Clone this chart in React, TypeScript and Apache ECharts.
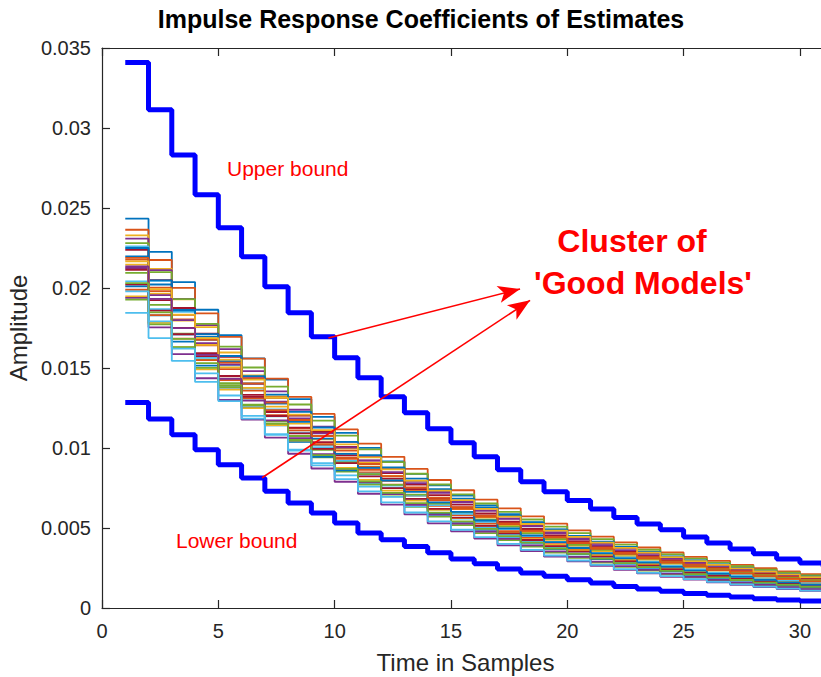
import React, { useEffect, useRef } from "react";
import * as echarts from "echarts";

// Time samples (stairs start at each sample)
const SAMPLES = [1, 2, 3, 4, 5, 6, 7, 8, 9, 10, 11, 12, 13, 14, 15, 16, 17, 18, 19, 20, 21, 22, 23, 24, 25, 26, 27, 28, 29, 30, 31];

// Thick blue bounds
const UPPER_BOUND = [0.0341, 0.03114, 0.02831, 0.02583, 0.02377, 0.02196, 0.02008, 0.01846, 0.01696, 0.01564, 0.01439, 0.01321, 0.01221, 0.01121, 0.01033, 0.00946, 0.00864, 0.00789, 0.00727, 0.00672, 0.00619, 0.00566, 0.00525, 0.00489, 0.00444, 0.00406, 0.00369, 0.00339, 0.00306, 0.00281, 0.00258];
const LOWER_BOUND = [0.01285, 0.01181, 0.01083, 0.00989, 0.00896, 0.00813, 0.00729, 0.00656, 0.00594, 0.00531, 0.00469, 0.00427, 0.00385, 0.00345, 0.00306, 0.00277, 0.00244, 0.00219, 0.00198, 0.00177, 0.00156, 0.00135, 0.00119, 0.00104, 0.00091, 0.00079, 0.00069, 0.00058, 0.0005, 0.00044, 0.0004];

// Cluster of model impulse responses
const MODEL_01 = [0.02433, 0.02226, 0.02037, 0.01864, 0.01705, 0.0156, 0.01428, 0.01306, 0.01195, 0.01094, 0.01001, 0.00916, 0.00838, 0.00767, 0.00702, 0.00642, 0.00587, 0.00537, 0.00492, 0.0045, 0.00412, 0.00377, 0.00345, 0.00315, 0.00289, 0.00264, 0.00242, 0.00221, 0.00202, 0.00185, 0.00169];
const MODEL_02 = [0.02364, 0.02175, 0.02001, 0.01841, 0.01694, 0.01558, 0.01433, 0.01319, 0.01213, 0.01116, 0.01027, 0.00945, 0.00869, 0.008, 0.00736, 0.00677, 0.00623, 0.00573, 0.00527, 0.00485, 0.00446, 0.0041, 0.00378, 0.00347, 0.0032, 0.00294, 0.0027, 0.00249, 0.00229, 0.00211, 0.00194];
const MODEL_03 = [0.02329, 0.02119, 0.01929, 0.01755, 0.01597, 0.01453, 0.01323, 0.01204, 0.01095, 0.00997, 0.00907, 0.00825, 0.00751, 0.00683, 0.00622, 0.00566, 0.00515, 0.00469, 0.00426, 0.00388, 0.00353, 0.00321, 0.00292, 0.00266, 0.00242, 0.0022, 0.00201, 0.00183, 0.00166, 0.00151, 0.00138];
const MODEL_04 = [0.02308, 0.02112, 0.01932, 0.01768, 0.01618, 0.0148, 0.01354, 0.01239, 0.01134, 0.01038, 0.00949, 0.00869, 0.00795, 0.00727, 0.00665, 0.00609, 0.00557, 0.0051, 0.00466, 0.00427, 0.00391, 0.00357, 0.00327, 0.00299, 0.00274, 0.0025, 0.00229, 0.0021, 0.00192, 0.00176, 0.00161];
const MODEL_05 = [0.02281, 0.02099, 0.01931, 0.01776, 0.01634, 0.01503, 0.01383, 0.01272, 0.01171, 0.01077, 0.00991, 0.00912, 0.00839, 0.00772, 0.0071, 0.00653, 0.00601, 0.00553, 0.00509, 0.00468, 0.0043, 0.00396, 0.00364, 0.00335, 0.00308, 0.00284, 0.00261, 0.0024, 0.00221, 0.00203, 0.00187];
const MODEL_06 = [0.0226, 0.02045, 0.01851, 0.01675, 0.01516, 0.01372, 0.01242, 0.01124, 0.01017, 0.0092, 0.00833, 0.00754, 0.00682, 0.00617, 0.00559, 0.00506, 0.00458, 0.00414, 0.00375, 0.00339, 0.00307, 0.00278, 0.00251, 0.00228, 0.00206, 0.00186, 0.00169, 0.00153, 0.00138, 0.00125, 0.00113];
const MODEL_07 = [0.02239, 0.02049, 0.01875, 0.01715, 0.01569, 0.01436, 0.01314, 0.01202, 0.011, 0.01007, 0.00921, 0.00843, 0.00771, 0.00706, 0.00646, 0.00591, 0.0054, 0.00495, 0.00453, 0.00414, 0.00379, 0.00347, 0.00317, 0.0029, 0.00266, 0.00243, 0.00222, 0.00203, 0.00186, 0.0017, 0.00156];
const MODEL_08 = [0.02198, 0.02022, 0.0186, 0.01712, 0.01575, 0.01449, 0.01333, 0.01226, 0.01128, 0.01038, 0.00955, 0.00878, 0.00808, 0.00743, 0.00684, 0.00629, 0.00579, 0.00533, 0.0049, 0.00451, 0.00415, 0.00382, 0.00351, 0.00323, 0.00297, 0.00273, 0.00251, 0.00231, 0.00213, 0.00196, 0.0018];
const MODEL_09 = [0.02177, 0.01981, 0.01803, 0.01641, 0.01493, 0.01359, 0.01236, 0.01125, 0.01024, 0.00932, 0.00848, 0.00771, 0.00702, 0.00639, 0.00581, 0.00529, 0.00481, 0.00438, 0.00399, 0.00363, 0.0033, 0.003, 0.00273, 0.00249, 0.00226, 0.00206, 0.00187, 0.00171, 0.00155, 0.00141, 0.00129];
const MODEL_10 = [0.02146, 0.01964, 0.01797, 0.01644, 0.01504, 0.01376, 0.01259, 0.01152, 0.01054, 0.00965, 0.00883, 0.00808, 0.00739, 0.00676, 0.00619, 0.00566, 0.00518, 0.00474, 0.00434, 0.00397, 0.00363, 0.00332, 0.00304, 0.00278, 0.00255, 0.00233, 0.00213, 0.00195, 0.00178, 0.00163, 0.00149];
const MODEL_11 = [0.02125, 0.01955, 0.01799, 0.01655, 0.01522, 0.01401, 0.01289, 0.01185, 0.01091, 0.01003, 0.00923, 0.00849, 0.00781, 0.00719, 0.00661, 0.00608, 0.0056, 0.00515, 0.00474, 0.00436, 0.00401, 0.00369, 0.00339, 0.00312, 0.00287, 0.00264, 0.00243, 0.00224, 0.00206, 0.00189, 0.00174];
const MODEL_12 = [0.02094, 0.01895, 0.01715, 0.01552, 0.01405, 0.01271, 0.0115, 0.01041, 0.00942, 0.00853, 0.00772, 0.00698, 0.00632, 0.00572, 0.00518, 0.00468, 0.00424, 0.00384, 0.00347, 0.00314, 0.00284, 0.00257, 0.00233, 0.00211, 0.00191, 0.00173, 0.00156, 0.00141, 0.00128, 0.00116, 0.00105];
const MODEL_13 = [0.02041, 0.01868, 0.01709, 0.01564, 0.01431, 0.01309, 0.01198, 0.01096, 0.01003, 0.00918, 0.0084, 0.00768, 0.00703, 0.00643, 0.00588, 0.00538, 0.00493, 0.00451, 0.00412, 0.00377, 0.00345, 0.00316, 0.00289, 0.00265, 0.00242, 0.00221, 0.00203, 0.00185, 0.0017, 0.00155, 0.00142];
const MODEL_14 = [0.02021, 0.01859, 0.01711, 0.01574, 0.01448, 0.01332, 0.01225, 0.01127, 0.01037, 0.00954, 0.00878, 0.00808, 0.00743, 0.00684, 0.00629, 0.00579, 0.00532, 0.0049, 0.00451, 0.00415, 0.00381, 0.00351, 0.00323, 0.00297, 0.00273, 0.00251, 0.00231, 0.00213, 0.00196, 0.0018, 0.00166];
const MODEL_15 = [0.0201, 0.01829, 0.01665, 0.01515, 0.01378, 0.01254, 0.01141, 0.01039, 0.00945, 0.0086, 0.00783, 0.00712, 0.00648, 0.0059, 0.00537, 0.00488, 0.00444, 0.00404, 0.00368, 0.00335, 0.00305, 0.00277, 0.00252, 0.0023, 0.00209, 0.0019, 0.00173, 0.00158, 0.00143, 0.0013, 0.00119];
const MODEL_16 = [0.01989, 0.0183, 0.01683, 0.01549, 0.01425, 0.01311, 0.01206, 0.0111, 0.01021, 0.00939, 0.00864, 0.00795, 0.00731, 0.00673, 0.00619, 0.00569, 0.00524, 0.00482, 0.00443, 0.00408, 0.00375, 0.00345, 0.00318, 0.00292, 0.00269, 0.00247, 0.00228, 0.00209, 0.00193, 0.00177, 0.00163];
const MODEL_17 = [0.01948, 0.01782, 0.01631, 0.01492, 0.01365, 0.01249, 0.01143, 0.01046, 0.00957, 0.00876, 0.00801, 0.00733, 0.00671, 0.00614, 0.00562, 0.00514, 0.0047, 0.0043, 0.00394, 0.0036, 0.0033, 0.00302, 0.00276, 0.00253, 0.00231, 0.00211, 0.00193, 0.00177, 0.00162, 0.00148, 0.00136];
const MODEL_18 = [0.01938, 0.01754, 0.01587, 0.01436, 0.013, 0.01177, 0.01065, 0.00964, 0.00872, 0.00789, 0.00714, 0.00646, 0.00585, 0.00529, 0.00479, 0.00434, 0.00392, 0.00355, 0.00321, 0.00291, 0.00263, 0.00238, 0.00216, 0.00195, 0.00177, 0.0016, 0.00145, 0.00131, 0.00118, 0.00107, 0.00097];
const MODEL_19 = [0.01927, 0.01773, 0.01631, 0.01501, 0.0138, 0.0127, 0.01168, 0.01075, 0.00989, 0.0091, 0.00837, 0.0077, 0.00708, 0.00652, 0.006, 0.00552, 0.00508, 0.00467, 0.0043, 0.00395, 0.00364, 0.00335, 0.00308, 0.00283, 0.0026, 0.0024, 0.0022, 0.00203, 0.00187, 0.00172, 0.00158];
const MODEL_20 = [0.01844, 0.01687, 0.01544, 0.01413, 0.01293, 0.01183, 0.01082, 0.0099, 0.00906, 0.00829, 0.00759, 0.00694, 0.00635, 0.00581, 0.00532, 0.00486, 0.00445, 0.00407, 0.00373, 0.00341, 0.00312, 0.00285, 0.00261, 0.00239, 0.00219, 0.002, 0.00183, 0.00168, 0.00153, 0.0014, 0.00128];
const MODEL_21 = [0.02114, 0.01924, 0.01751, 0.01593, 0.0145, 0.01319, 0.012, 0.01092, 0.00994, 0.00905, 0.00823, 0.00749, 0.00682, 0.0062, 0.00565, 0.00514, 0.00467, 0.00425, 0.00387, 0.00352, 0.00321, 0.00292, 0.00265, 0.00242, 0.0022, 0.002, 0.00182, 0.00166, 0.00151, 0.00137, 0.00125];
const MODEL_22 = [0.0225, 0.02048, 0.01863, 0.01696, 0.01543, 0.01404, 0.01278, 0.01163, 0.01058, 0.00963, 0.00876, 0.00797, 0.00726, 0.0066, 0.00601, 0.00547, 0.00498, 0.00453, 0.00412, 0.00375, 0.00341, 0.0031, 0.00283, 0.00257, 0.00234, 0.00213, 0.00194, 0.00176, 0.0016, 0.00146, 0.00133];
const MODEL_23 = [0.02188, 0.02002, 0.01832, 0.01676, 0.01534, 0.01403, 0.01284, 0.01175, 0.01075, 0.00984, 0.009, 0.00824, 0.00754, 0.00689, 0.00631, 0.00577, 0.00528, 0.00483, 0.00442, 0.00405, 0.0037, 0.00339, 0.0031, 0.00284, 0.0026, 0.00237, 0.00217, 0.00199, 0.00182, 0.00166, 0.00152];
const MODEL_24 = [0.02166, 0.01993, 0.01833, 0.01687, 0.01552, 0.01428, 0.01313, 0.01208, 0.01112, 0.01023, 0.00941, 0.00866, 0.00796, 0.00733, 0.00674, 0.0062, 0.00571, 0.00525, 0.00483, 0.00444, 0.00409, 0.00376, 0.00346, 0.00318, 0.00293, 0.00269, 0.00248, 0.00228, 0.0021, 0.00193, 0.00178];
const MODEL_25 = [0.02135, 0.01932, 0.01749, 0.01582, 0.01432, 0.01296, 0.01173, 0.01062, 0.00961, 0.00869, 0.00787, 0.00712, 0.00644, 0.00583, 0.00528, 0.00478, 0.00432, 0.00391, 0.00354, 0.0032, 0.0029, 0.00262, 0.00238, 0.00215, 0.00195, 0.00176, 0.00159, 0.00144, 0.0013, 0.00118, 0.00107];
const MODEL_26 = [0.02031, 0.01848, 0.01682, 0.0153, 0.01393, 0.01267, 0.01153, 0.0105, 0.00955, 0.00869, 0.00791, 0.0072, 0.00655, 0.00596, 0.00542, 0.00494, 0.00449, 0.00409, 0.00372, 0.00338, 0.00308, 0.0028, 0.00255, 0.00232, 0.00211, 0.00192, 0.00175, 0.00159, 0.00145, 0.00132, 0.0012];
const MODEL_27 = [0.01979, 0.01791, 0.01621, 0.01467, 0.01328, 0.01201, 0.01087, 0.00984, 0.00891, 0.00806, 0.00729, 0.0066, 0.00597, 0.00541, 0.00489, 0.00443, 0.00401, 0.00363, 0.00328, 0.00297, 0.00269, 0.00243, 0.0022, 0.00199, 0.0018, 0.00163, 0.00148, 0.00134, 0.00121, 0.00109, 0.00099];

const MODELS = [MODEL_01, MODEL_02, MODEL_03, MODEL_04, MODEL_05, MODEL_06, MODEL_07, MODEL_08, MODEL_09, MODEL_10, MODEL_11, MODEL_12, MODEL_13, MODEL_14, MODEL_15, MODEL_16, MODEL_17, MODEL_18, MODEL_19, MODEL_20, MODEL_21, MODEL_22, MODEL_23, MODEL_24, MODEL_25, MODEL_26, MODEL_27];

const MODEL_COLORS = ["#0072BD", "#D95319", "#EDB120", "#7E2F8E", "#77AC30", "#4DBEEE", "#A2142F"];

// Axis settings
const X_MIN = 0;
const X_MAX = 31.25;
const X_INTERVAL = 5;
const Y_MIN = 0;
const Y_MAX = 0.035;
const Y_INTERVAL = 0.005;

// Arrow annotation endpoints in data units [x, y]
const ARROW_UPPER = [[9.73, 0.01688], [17.97, 0.01994]];
const ARROW_LOWER = [[6.88, 0.00814], [18.4, 0.01923]];

const FONT = '"Liberation Sans", Arial, Helvetica, sans-serif';
const AXIS_COLOR = "#262626";

function txt(text: string, x: number, y: number, size: number, bold: boolean, color: string, align = "left") {
  return {
    type: "text",
    x,
    y,
    silent: true,
    z: 100,
    style: {
      text,
      fill: color,
      fontSize: size,
      fontWeight: bold ? "bold" : "normal",
      fontFamily: FONT,
      align,
      verticalAlign: "middle",
      textAlign: align,
      textVerticalAlign: "middle",
    },
  };
}

export default function App() {
  const ref = useRef<HTMLDivElement>(null);

  useEffect(() => {
    const chart = echarts.init(ref.current as HTMLDivElement, null, { renderer: "svg" });
    const pair = (ys: number[]) => SAMPLES.map((x, i) => [x, ys[i]]);

    const modelSeries = MODELS.map((m, i) => ({
      type: "line",
      name: "Model " + (i + 1),
      data: pair(m),
      step: "end",
      showSymbol: false,
      symbol: "none",
      silent: true,
      z: 2,
      lineStyle: { color: MODEL_COLORS[i % MODEL_COLORS.length], width: 1.8 },
    }));

    const axisLine = { show: true, onZero: false, lineStyle: { color: AXIS_COLOR, width: 1.2 } };
    const axisTick = { show: true, inside: true, length: 8, lineStyle: { color: AXIS_COLOR, width: 1.2 } };

    const option: any = {
      animation: false,
      textStyle: { fontFamily: FONT },
      grid: { left: 102, width: 727, top: 48, bottom: 69, containLabel: false, outerBoundsMode: "none" },
      xAxis: [
        {
          type: "value",
          min: X_MIN,
          max: X_MAX,
          interval: X_INTERVAL,
          position: "bottom",
          axisLine,
          axisTick,
          splitLine: { show: false },
          axisLabel: { color: AXIS_COLOR, fontSize: 20, margin: 13, showMaxLabel: false, fontFamily: FONT },
          name: "Time in Samples",
          nameLocation: "middle",
          nameGap: 42,
          nameTextStyle: { color: AXIS_COLOR, fontSize: 24, fontFamily: FONT },
        },
        {
          type: "value",
          min: X_MIN,
          max: X_MAX,
          interval: X_INTERVAL,
          position: "top",
          axisLine,
          axisTick,
          splitLine: { show: false },
          axisLabel: { show: false },
        },
      ],
      yAxis: [
        {
          type: "value",
          min: Y_MIN,
          max: Y_MAX,
          interval: Y_INTERVAL,
          position: "left",
          axisLine,
          axisTick,
          splitLine: { show: false },
          axisLabel: { color: AXIS_COLOR, fontSize: 20, margin: 11, fontFamily: FONT },
          name: "Amplitude",
          nameLocation: "middle",
          nameGap: 68,
          nameTextStyle: { color: AXIS_COLOR, fontSize: 24, fontFamily: FONT },
        },
        {
          type: "value",
          min: Y_MIN,
          max: Y_MAX,
          interval: Y_INTERVAL,
          position: "right",
          axisLine,
          axisTick,
          splitLine: { show: false },
          axisLabel: { show: false },
        },
      ],
      series: [
        ...modelSeries,
        {
          type: "line",
          name: "Upper bound",
          data: pair(UPPER_BOUND),
          step: "end",
          showSymbol: false,
          symbol: "none",
          silent: true,
          z: 3,
          lineStyle: { color: "#0000FF", width: 5 },
          markLine: {
            silent: true,
            animation: false,
            symbol: ["none", "arrow"],
            symbolSize: [13, 22],
            label: { show: false },
            lineStyle: { color: "#FF0000", width: 1.6, type: "solid" },
            emphasis: { disabled: true },
            data: [
              [{ coord: ARROW_UPPER[0] }, { coord: ARROW_UPPER[1] }],
              [{ coord: ARROW_LOWER[0] }, { coord: ARROW_LOWER[1] }],
            ],
          },
        },
        {
          type: "line",
          name: "Lower bound",
          data: pair(LOWER_BOUND),
          step: "end",
          showSymbol: false,
          symbol: "none",
          silent: true,
          z: 3,
          lineStyle: { color: "#0000FF", width: 5 },
        },
      ],
      graphic: [
        txt("Impulse Response Coefficients of Estimates", 421, 19, 25, true, "#000000", "center"),
        txt("Upper bound", 227, 168, 21, false, "#FF0000"),
        txt("Lower bound", 176, 540, 21, false, "#FF0000"),
        txt("Cluster of", 632, 241, 32, true, "#FF0000", "center"),
        txt("'Good Models'", 643, 283, 32, true, "#FF0000", "center"),
      ],
    };

    chart.setOption(option);
    return () => chart.dispose();
  }, []);

  return <div ref={ref} style={{ position: "absolute", left: 0, top: 0, width: 821, height: 677 }} />;
}
